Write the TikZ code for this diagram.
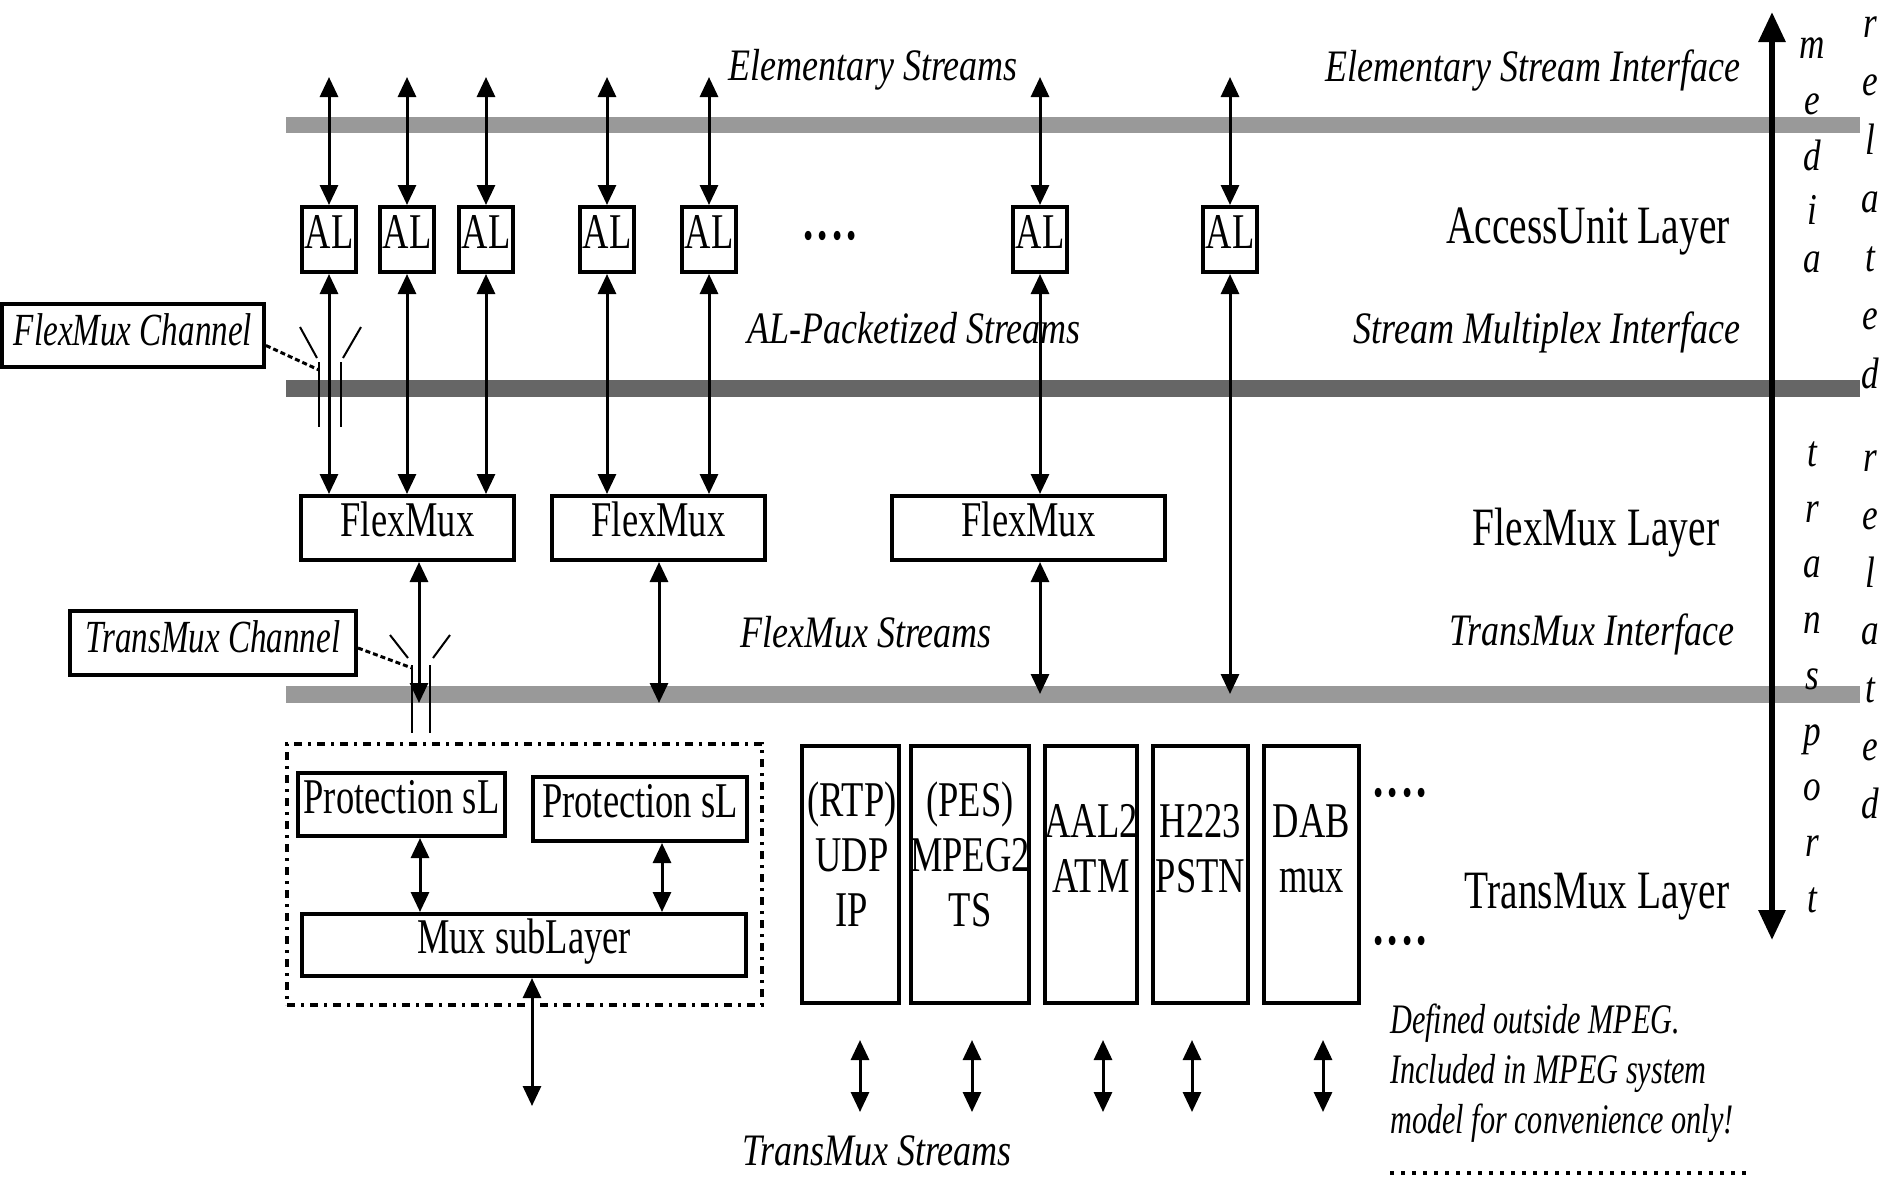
\documentclass[tikz,border=0pt]{standalone}
\usepackage{fontspec}
\setmainfont{Liberation Serif}
\newfontfamily\upf[FakeStretch=0.73]{Liberation Serif}
\newfontfamily\itf[FakeStretch=0.8]{Liberation Serif}
\newfontfamily\itnar[FakeStretch=0.72]{Liberation Serif}
\usetikzlibrary{arrows.meta}
\definecolor{barlight}{gray}{0.6}
\definecolor{bardark}{gray}{0.4}
\begin{document}
\begin{tikzpicture}[x=1pt,y=-1pt,
  bar/.style={rectangle,draw=none,inner sep=0pt},
  box/.style={rectangle,draw,line width=4pt,inner sep=0pt,
    font=\upf\fontsize{50}{56}\selectfont,text height=33pt,text depth=16pt},
  colbox/.style={rectangle,draw,line width=4pt,inner sep=0pt,minimum height=257pt},
  coltext/.style={inner sep=0pt,anchor=north,align=center,font=\upf\fontsize{50}{55}\selectfont},
  chbox/.style={rectangle,draw,line width=4pt,inner sep=0pt,
    font=\itnar\itshape\fontsize{46}{50}\selectfont,text height=31pt,text depth=12pt},
  itlab/.style={inner sep=0pt,anchor=base,font=\itf\itshape\fontsize{45}{50}\selectfont},
  layerlab/.style={inner sep=0pt,anchor=base,font=\upf\fontsize{54}{60}\selectfont},
  notelab/.style={inner sep=0pt,anchor=base west,font=\itnar\itshape\fontsize{42}{46}\selectfont},
  vlet/.style={inner sep=0pt,anchor=base,font=\itf\itshape\fontsize{44}{48}\selectfont},
  dots/.style={inner sep=0pt,anchor=base,font=\upf\fontsize{78}{80}\selectfont},
  dbl/.style={line width=3pt,{Triangle[width=18pt,length=20pt]}-{Triangle[width=18pt,length=20pt]}},
  bigdbl/.style={line width=6pt,{Triangle[width=26pt,length=30pt]}-{Triangle[width=26pt,length=30pt]}},
  chline/.style={line width=2.5pt},
  leader/.style={line width=3pt,dash pattern=on 5pt off 3pt},
  frame/.style={rectangle,draw,line width=3.5pt,dash pattern=on 8pt off 6pt on 3pt off 6pt,inner sep=0pt}
]
\fill[white] (0,0) rectangle (1890,1179);
\useasboundingbox (0,0) rectangle (1890,1179);

% interface bars
\node[bar,fill=barlight,minimum width=1574pt,minimum height=16pt] (bar1) at (1073,125) {};
\node[bar,fill=bardark,minimum width=1574pt,minimum height=17pt] (bar2) at (1073,388.5) {};
\node[bar,fill=barlight,minimum width=1574pt,minimum height=17pt] (bar3) at (1073,694.5) {};

% AL boxes
\foreach \n/\x in {1/329,2/407,3/486,4/607,5/709,6/1040,7/1230}{
  \node[box,minimum width=54pt,minimum height=65pt] (al\n) at (\x,239.5) {AL};
  \coordinate (top\n) at (\x,77);
  \draw[dbl] (al\n.north) -- (top\n);
}
\node[dots] (dotsal) at (830,239) {....};

% FlexMux boxes
\node[box,minimum width=213pt,minimum height=64pt] (fm1) at (407.5,528) {FlexMux};
\node[box,minimum width=213pt,minimum height=64pt] (fm2) at (658.5,528) {FlexMux};
\node[box,minimum width=273pt,minimum height=64pt] (fm3) at (1028.5,528) {FlexMux};

\draw[dbl] (al1.south) -- (al1.south |- fm1.north);
\draw[dbl] (al2.south) -- (al2.south |- fm1.north);
\draw[dbl] (al3.south) -- (al3.south |- fm1.north);
\draw[dbl] (al4.south) -- (al4.south |- fm2.north);
\draw[dbl] (al5.south) -- (al5.south |- fm2.north);
\draw[dbl] (al6.south) -- (al6.south |- fm3.north);
\coordinate (b4) at (1230,694);
\draw[dbl] (al7.south) -- (b4);

% FlexMux to TransMux interface
\coordinate (b1) at (419,703);
\coordinate (b2) at (659,703);
\coordinate (b3) at (1040,694);
\draw[dbl] (fm1.south -| b1) -- (b1);
\draw[dbl] (fm2.south -| b2) -- (b2);
\draw[dbl] (fm3.south -| b3) -- (b3);

% FlexMux channel marker
\node[chbox,minimum width=262pt,minimum height=63pt] (fmc) at (133,335.5) {FlexMux Channel};
\coordinate (fmcl) at (319,370);
\draw[chline] (319,362) -- (319,427);
\draw[chline] (341,362) -- (341,427);
\draw[line width=2pt] (300,327) -- (317,358);
\draw[line width=2pt] (361,327) -- (343,358);
\draw[leader] ([yshift=-10pt]fmc.east) -- (fmcl);

% TransMux channel marker
\node[chbox,minimum width=286pt,minimum height=64pt] (tmc) at (213,643) {TransMux Channel};
\coordinate (tmcl) at (412,668);
\draw[chline] (412,665) -- (412,733);
\draw[chline] (430,665) -- (430,733);
\draw[line width=2pt] (390,635) -- (408,658);
\draw[line width=2pt] (450,635) -- (433,658);
\draw[leader] ([yshift=-5pt]tmc.east) -- (tmcl);

% protection / mux group
\node[frame,minimum width=475pt,minimum height=261pt] (grp) at (524.5,874.5) {};
\node[box,minimum width=207pt,minimum height=63pt] (p1) at (401.5,804.5) {Protection sL};
\node[box,minimum width=214pt,minimum height=64pt] (p2) at (640,809) {Protection sL};
\node[box,minimum width=444pt,minimum height=62pt] (mux) at (524,945) {Mux subLayer};
\coordinate (px1) at (420,0);
\coordinate (px2) at (662,0);
\draw[dbl] (p1.south -| px1) -- (mux.north -| px1);
\draw[dbl] (p2.south -| px2) -- (mux.north -| px2);
\coordinate (mb) at (532,1106);
\draw[dbl] (mux.south -| mb) -- (mb);

% transmux columns
\node[colbox,minimum width=97pt] (rtp) at (850.5,874.5) {};
\node[colbox,minimum width=118pt] (pes) at (970,874.5) {};
\node[colbox,minimum width=92pt] (aal) at (1091,874.5) {};
\node[colbox,minimum width=95pt] (h223) at (1200.5,874.5) {};
\node[colbox,minimum width=95pt] (dab) at (1311.5,874.5) {};
\node[coltext] (rtpt) at (852,782) {(RTP)\\UDP\\IP};
\node[coltext] (pest) at (970,782) {(PES)\\MPEG2\\TS};
\node[coltext] (aalt) at (1091,804) {AAL2\\ATM};
\node[coltext] (h223t) at (1200.5,804) {H223\\PSTN};
\node[coltext] (dabt) at (1311.5,804) {DAB\\mux};
\node[dots] (dotsc1) at (1400,796) {....};
\node[dots] (dotsc2) at (1400,944) {....};

\foreach \n/\x in {1/860,2/972,3/1103,4/1192,5/1323}{
  \coordinate (sa\n) at (\x,1040);
  \coordinate (sb\n) at (\x,1112);
  \draw[dbl] (sa\n) -- (sb\n);
}

% labels
\node[itlab] (les) at (873,80) {Elementary Streams};
\node[itlab] (lesi) at (1533,81) {Elementary Stream Interface};
\node[itlab] (lalp) at (914,343) {AL-Packetized Streams};
\node[itlab] (lsmi) at (1547,343) {Stream Multiplex Interface};
\node[itlab] (lfms) at (866,647) {FlexMux Streams};
\node[itlab] (ltmi) at (1592,645) {TransMux Interface};
\node[itlab] (ltms) at (877,1165) {TransMux Streams};

\node[layerlab] (lau) at (1588,243) {AccessUnit Layer};
\node[layerlab] (lfl) at (1596,545) {FlexMux Layer};
\node[layerlab] (ltl) at (1597,908) {TransMux Layer};

\node[notelab] (n1) at (1390,1033) {Defined outside MPEG.};
\node[notelab] (n2) at (1390,1083) {Included in MPEG system};
\node[notelab] (n3) at (1390,1133) {model for convenience only!};
\coordinate (dl1) at (1390,1173);
\coordinate (dl2) at (1748,1173);
\draw[line width=3.5pt,dash pattern=on 4pt off 7pt] (dl1) -- (dl2);

% right side
\coordinate (vt) at (1772,12);
\coordinate (vb) at (1772,940);
\draw[bigdbl] (vt) -- (vb);
\foreach \l/\yy [count=\i] in {m/58,e/114,d/170,i/224,a/272}
  \node[vlet] (me\i) at (1812,\yy) {\l};
\foreach \l/\yy [count=\i] in {r/37,e/95,l/154,a/212,t/271,e/329,d/388}
  \node[vlet] (ra\i) at (1870,\yy) {\l};
\foreach \l/\yy [count=\i] in {t/466,r/522,a/577,n/633,s/689,p/745,o/800,r/856,t/912}
  \node[vlet] (tr\i) at (1812,\yy) {\l};
\foreach \l/\yy [count=\i] in {r/471,e/529,l/587,a/644,t/702,e/760,d/818}
  \node[vlet] (rb\i) at (1870,\yy) {\l};
\end{tikzpicture}
\end{document}
